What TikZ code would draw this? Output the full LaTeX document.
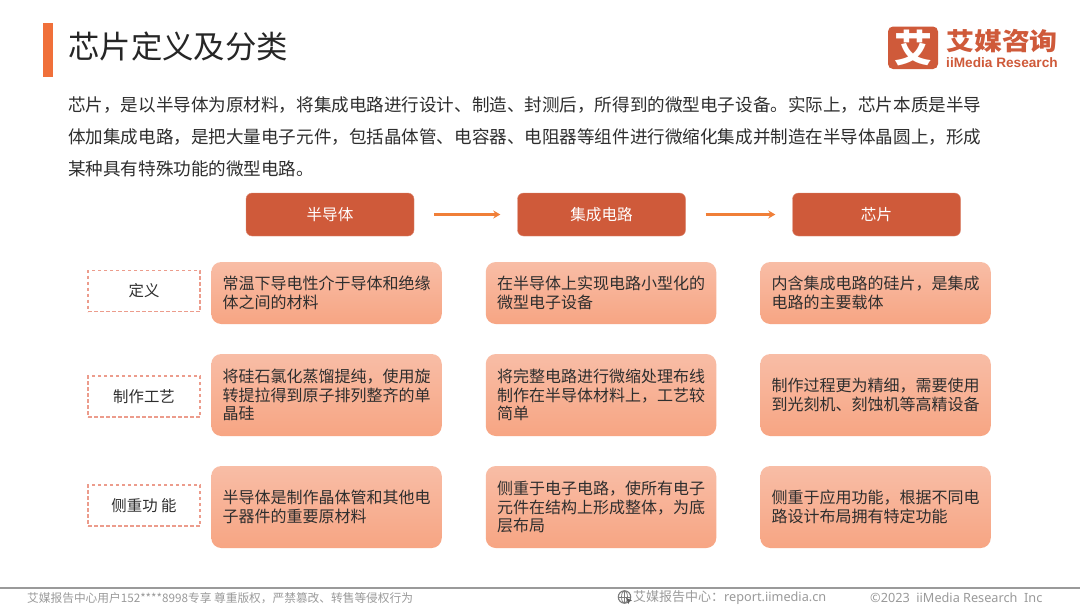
\documentclass[tikz,border=0pt]{standalone}
\usepackage{fontspec}
\usepackage{graphicx}
\setmainfont{Noto Sans CJK SC}
\newfontfamily\latinfont{Noto Sans}
\newfontfamily\logofont{Liberation Sans}
\usetikzlibrary{arrows.meta}
\definecolor{brick}{HTML}{CF5A3A}
\definecolor{accent}{HTML}{F0703A}
\definecolor{arrowc}{HTML}{F07F38}
\definecolor{celltop}{HTML}{F8BDA6}
\definecolor{cellbot}{HTML}{F7A583}
\definecolor{dashc}{HTML}{EC9C8C}
\definecolor{ink}{HTML}{2E2E2E}
\definecolor{foot}{HTML}{9A9A9A}
\tikzset{
  x=1pt,y=-1pt,
  header/.style={fill=brick,draw=brick!70!white,line width=0.4pt,rounded corners=6pt,minimum width=168pt,minimum height=43pt,inner sep=0pt,text=white,font=\fontsize{15.6}{18}\selectfont},
  cell/.style={rounded corners=10pt,top color=celltop,bottom color=cellbot,draw=none,minimum width=230.5pt,inner sep=0pt,text width=208pt,align=left,text=ink,font=\fontsize{16}{18.8}\selectfont},
  rowlabel/.style={draw=dashc,dashed,dash pattern=on 3.5pt off 2.5pt,line width=1.1pt,minimum width=112pt,minimum height=41pt,inner sep=0pt,text=ink,font=\fontsize{15.4}{18}\selectfont},
  flow/.style={draw=arrowc,line width=2.2pt,-{Stealth[length=7pt,width=8pt]},shorten <=20pt,shorten >=17pt},
  foottext/.style={inner sep=0pt,text=foot,anchor=west},
}
\begin{document}
\begin{tikzpicture}
\useasboundingbox (0,0) rectangle (1080,608);
\fill[white] (0,0) rectangle (1080,608);
% title
\fill[accent] (43,23) rectangle (53,77);
\node[inner sep=0pt,anchor=west,text=black!85,font=\fontsize{31.4}{36}\selectfont] (title) at (68,47) {芯片定义及分类};
% logo
\fill[brick,rounded corners=5pt] (888,26.5) rectangle (938,69);
\node[inner sep=0pt,text=white,font=\fontsize{38}{38}\bfseries\selectfont] (logomark) at (913,47.5) {艾};
\node[inner sep=0pt,anchor=west,text=brick,font=\fontsize{24.5}{26}\bfseries\selectfont] (logocn) at (946,41.5) {\scalebox{1.14}[1]{艾媒咨询}};
\node[inner sep=0pt,anchor=west,text=brick,font=\logofont\fontsize{13.65}{15}\bfseries\selectfont] (logoen) at (946,62.5) {iiMedia Research};
% body
\node[inner sep=0pt,anchor=north west,align=left,text=ink,font=\fontsize{17.56}{32}\selectfont] (intro) at (68,96) {芯片，是以半导体为原材料，将集成电路进行设计、制造、封测后，所得到的微型电子设备。实际上，芯片本质是半导\\体加集成电路，是把大量电子元件，包括晶体管、电容器、电阻器等组件进行微缩化集成并制造在半导体晶圆上，形成\\某种具有特殊功能的微型电路。};
% headers
\node[header] (h1) at (330,214.5) {半导体};
\node[header] (h2) at (601.5,214.5) {集成电路};
\node[header] (h3) at (876.5,214.5) {芯片};
\draw[flow] (h1) -- (h2);
\draw[flow] (h2) -- (h3);
% row labels
\node[rowlabel] (r1) at (144,291) {定义};
\node[rowlabel] (r2) at (144,396.5) {制作工艺};
\node[rowlabel] (r3) at (144,505.5) {侧重功 能};
% row 1
\node[cell,minimum height=62pt] (c11) at (326.5,293) {常温下导电性介于导体和绝缘\\体之间的材料};
\node[cell,minimum height=62pt] (c12) at (601,293) {在半导体上实现电路小型化的\\微型电子设备};
\node[cell,minimum height=62pt] (c13) at (875.5,293) {内含集成电路的硅片，是集成\\电路的主要载体};
% row 2
\node[cell,minimum height=82pt] (c21) at (326.5,395) {将硅石氯化蒸馏提纯，使用旋\\转提拉得到原子排列整齐的单\\晶硅};
\node[cell,minimum height=82pt] (c22) at (601,395) {将完整电路进行微缩处理布线\\制作在半导体材料上，工艺较\\简单};
\node[cell,minimum height=82pt] (c23) at (875.5,395) {制作过程更为精细，需要使用\\到光刻机、刻蚀机等高精设备};
% row 3
\node[cell,minimum height=82pt] (c31) at (326.5,507) {半导体是制作晶体管和其他电\\子器件的重要原材料};
\node[cell,minimum height=82pt] (c32) at (601,507) {侧重于电子电路，使所有电子\\元件在结构上形成整体，为底\\层布局};
\node[cell,minimum height=82pt] (c33) at (875.5,507) {侧重于应用功能，根据不同电\\路设计布局拥有特定功能};
% footer
\draw[foot,line width=1.2pt] (0,588) -- (1080,588);
\node[foottext,font=\fontsize{11.7}{14}\selectfont] (f1) at (27,598) {艾媒报告中心用户152****8998专享 尊重版权，严禁篡改、转售等侵权行为};
\draw[foot!80!black,line width=1.1pt] (624.5,597) circle (6.2pt);
\draw[foot!80!black,line width=0.7pt] (618.5,597) -- (630.5,597) (624.5,591) -- (624.5,603);
\draw[foot!80!black,line width=0.7pt] (624.5,597) ellipse (3pt and 6.2pt);
\fill[foot!60!black] (626,598) -- (632,600.5) -- (629.5,601.5) -- (628.5,604) -- cycle;
\node[foottext,font=\fontsize{13}{15}\selectfont] (f2) at (633,598) {艾媒报告中心：\latinfont\fontsize{12.7}{15}\selectfont report.iimedia.cn};
\node[foottext,font=\latinfont\fontsize{12.7}{15}\selectfont] (f3) at (870,597.5) {©2023\ \ iiMedia Research\ \ Inc};
\end{tikzpicture}
\end{document}
